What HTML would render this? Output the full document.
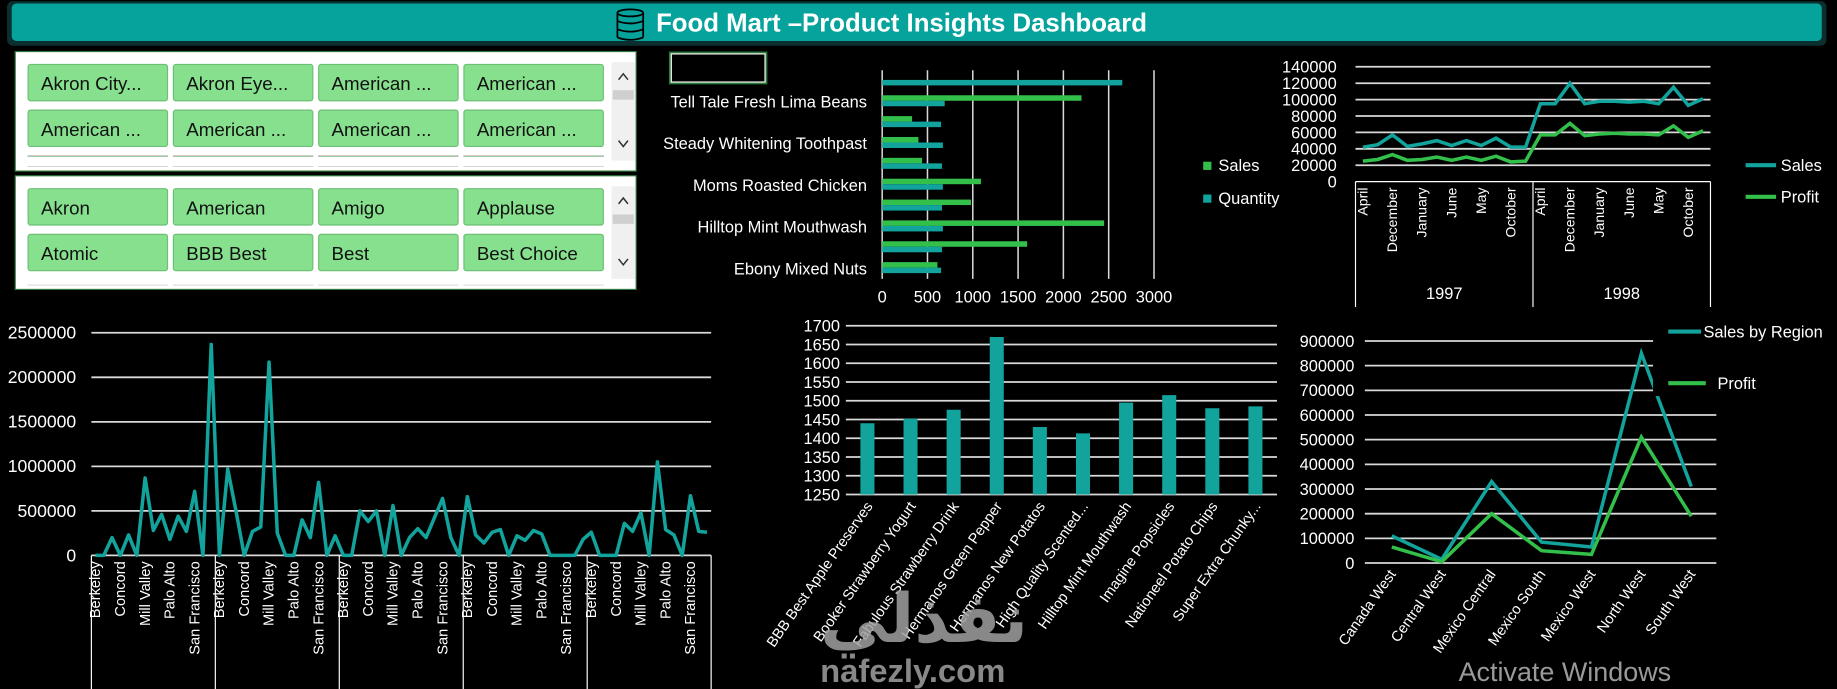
<!DOCTYPE html>
<html><head><meta charset="utf-8">
<style>
html,body{margin:0;padding:0;background:#000;overflow:hidden}
svg{display:block}
.n{font-family:"Liberation Sans Narrow","Liberation Sans",sans-serif}
.s{font-family:"Liberation Sans",sans-serif}
</style></head>
<body>
<svg id="root" width="1837" height="689" viewBox="0 0 1568 588" preserveAspectRatio="none" xmlns="http://www.w3.org/2000/svg">
<rect x="0" y="0" width="1568" height="588" fill="#000"/>
<g>
<rect x="6" y="1" width="1553" height="38" rx="5" fill="#0a2f2e"/>
<rect x="10" y="3" width="1545" height="32" rx="4" fill="#06a39c"/>
<g fill="none" stroke="#000" stroke-width="1.5">
<ellipse cx="538" cy="11" rx="11" ry="3"/>
<path d="M527 11 V32 M549 11 V32 M527 18 Q538 22 549 18 M527 25 Q538 29 549 25 M527 32 Q538 36 549 32"/>
</g>
<text x="560" y="27" class="n" font-size="22" font-weight="bold" fill="#fff">Food Mart –Product Insights Dashboard</text>
</g>
<g id="slicers"></g>
<rect x="572" y="45" width="82" height="26" fill="none" stroke="#2e7a3e" stroke-width="2"/>
<rect x="573" y="46" width="80" height="24" fill="none" stroke="#fff" stroke-width="1"/>
<g id="barh"></g>
<g id="trend"></g>
<g id="city"></g>
<g id="prod"></g>
<g id="region"></g>
<g fill="#a0a0a0" opacity="0.85">
<text x="700" y="548" font-family="'Noto Sans CJK SC','DejaVu Sans',sans-serif" font-size="58" font-weight="bold">نفذلي</text>
<text x="700" y="582" class="n" font-size="28" font-weight="bold">nafezly.com</text>
</g>
<text x="1245" y="581" class="n" font-size="23" fill="#9a9a9a">Activate Windows</text>
</svg>
<script>
const NS="http://www.w3.org/2000/svg";
function mk(parent,tag,attrs,txt){const e=document.createElementNS(NS,tag);for(const k in attrs)e.setAttribute(k,attrs[k]);if(txt!==undefined)e.textContent=txt;parent.appendChild(e);return e;}
const TEAL="#12a39c",GREEN="#33c04a",GRID="#d9d9d9";

// ---------- slicers ----------
const slicer1Items=["Akron City...","Akron Eye...","American ...","American ...","American ...","American ...","American ...","American ..."];
const slicer2Items=["Akron","American","Amigo","Applause","Atomic","BBB Best","Best","Best Choice"];
function slicer(y0,h,items,name){
  const g=document.getElementById('slicers');
  const box=mk(g,'rect',{x:13,y:y0,width:530,height:h,fill:"#fff",stroke:"#2e7a3e","stroke-width":1});
  
  
  const cols=[24,148,272,396];
  for(let r=0;r<3;r++)for(let c=0;c<4;c++){
    const by=y0+11+r*39;
    if(r===2){const p=mk(g,'rect',{x:cols[c],y:by,width:119,height:h-11-r*39-4,fill:"#86e08e",stroke:"#bbb"});continue;}
    const b=mk(g,'rect',{x:cols[c],y:by,width:119,height:31,rx:2,fill:"#86e08e",stroke:"#6cbf74"});
    
    
    const t=mk(g,'text',{x:cols[c]+11,y:by+22,class:"n","font-size":16,fill:"#111"},items[r*4+c]);
    
    
  }
  const sb=mk(g,'rect',{x:522,y:y0+9,width:20,height:h-18,fill:"#f0f0f0"});
  
  
  mk(g,'rect',{x:523,y:y0+33,width:18,height:8,fill:"#cfcfcf"});
  mk(g,'path',{d:`M528 ${y0+24} l4 -5 l4 5`,stroke:"#333",fill:"none","stroke-width":1.3});
  mk(g,'path',{d:`M528 ${y0+h-26} l4 5 l4 -5`,stroke:"#333",fill:"none","stroke-width":1.3});
}
slicer(44,102,slicer1Items,'store-slicer');
slicer(150,97,slicer2Items,'brand-slicer');
// clip third row overflow: cover
(function(){const g=document.getElementById('slicers');
mk(g,'rect',{x:20,y:134,width:500,height:8,fill:"#fff"});
mk(g,'rect',{x:20,y:238,width:500,height:5,fill:"#fff"});})();

// ---------- horizontal bar chart ----------
const barCats=["","Tell Tale Fresh Lima Beans","","Steady Whitening Toothpast","","Moms Roasted Chicken","","Hilltop Mint Mouthwash","","Ebony Mixed Nuts"];
const barSales=[0,2200,330,400,440,1090,980,2450,1600,610];
const barQty=[2650,690,650,670,660,670,660,670,660,650];
const barTicks=[0,500,1000,1500,2000,2500,3000];
(function(){
  const g=document.getElementById('barh');
  const x0=753,x1=985,y0=60,y1=238,max=3000;
  const xb=v=>x0+v/max*(x1-x0);
  const bh=(y1-y0)/barCats.length;
  barTicks.forEach(t=>{
    const l=mk(g,'line',{x1:xb(t),x2:xb(t),y1:y0,y2:y1,stroke:GRID,"stroke-width":1.3});
    
    
    const tx=mk(g,'text',{x:xb(t),y:258,"text-anchor":"middle",class:"n","font-size":14,fill:"#fff"},t);
    
    
  });
  barCats.forEach((c,i)=>{
    const top=y0+i*bh;
    const r1=mk(g,'rect',{x:x0,y:top+3.5,width:xb(barSales[i])-x0,height:4.7,fill:GREEN});
    
    
    const r2=mk(g,'rect',{x:x0,y:top+8.2,width:xb(barQty[i])-x0,height:4.7,fill:TEAL});
    
    
    if(c){const t=mk(g,'text',{x:740,y:top+bh/2+5,"text-anchor":"end",class:"n","font-size":14,fill:"#fff"},c);
      
      }
  });
  const lg1=mk(g,'rect',{x:1027,y:138,width:7,height:7,fill:GREEN});
  
  
  const lt1=mk(g,'text',{x:1040,y:146,class:"n","font-size":14,fill:"#fff"},"Sales");
  
  
  const lg2=mk(g,'rect',{x:1027,y:166,width:7,height:7,fill:TEAL});
  
  
  const lt2=mk(g,'text',{x:1040,y:174,class:"n","font-size":14,fill:"#fff"},"Quantity");
  
  
})();

// ---------- monthly trend ----------
const months=["April","August","December","February","January","July","June","March","May","November","October","September"];
const years=["1997","1998"];
const trendSales=[42000,45000,57000,43000,46000,50000,44000,50000,44000,53000,42000,42000,95000,95000,120000,95000,98000,98000,97000,98000,95000,115000,93000,101000];
const trendProfit=[25000,27000,33000,26000,27000,30000,26000,30000,26000,31000,24000,25000,57000,57000,71000,56000,58000,59000,58000,58000,57000,68000,54000,62000];
const trendTicks=[0,20000,40000,60000,80000,100000,120000,140000];
(function(){
  const g=document.getElementById('trend');
  const x0=1157,x1=1460,y0=57,y1=155,max=140000;
  const n=trendSales.length;
  const xs=i=>x0+(i+0.5)*(x1-x0)/n;
  const ys=v=>y1-v/max*(y1-y0);
  trendTicks.forEach(t=>{
    if(t>0){const l=mk(g,'line',{x1:x0,x2:x1,y1:ys(t),y2:ys(t),stroke:GRID,"stroke-width":1.5});
    
    }
    const tx=mk(g,'text',{x:1141,y:ys(t)+5,"text-anchor":"end",class:"n","font-size":14,fill:"#fff"},t);
    
    
  });
  [x0,(x0+x1)/2,x1].forEach(x=>{mk(g,'line',{x1:x,x2:x,y1:y1,y2:262,stroke:"#fff","stroke-width":1});});
  mk(g,'line',{x1:x0,x2:x1,y1:y1,y2:y1,stroke:"#fff","stroke-width":1});
  for(let i=0;i<n;i+=2){
    const x=xs(i)+4;
    const t=mk(g,'text',{x:x,y:160,transform:`rotate(-90 ${x} 160)`,"text-anchor":"end",class:"s","font-size":12,fill:"#fff"},months[i%12]);
    
    
  }
  years.forEach((y,k)=>{const t=mk(g,'text',{x:x0+(k+0.5)*(x1-x0)/2,y:255,"text-anchor":"middle",class:"n","font-size":14,fill:"#fff"},y);
    
    });
  const p1=mk(g,'polyline',{points:trendSales.map((v,i)=>xs(i)+","+ys(v)).join(" "),fill:"none",stroke:TEAL,"stroke-width":3});
  
  
  const p2=mk(g,'polyline',{points:trendProfit.map((v,i)=>xs(i)+","+ys(v)).join(" "),fill:"none",stroke:GREEN,"stroke-width":3});
  
  
  mk(g,'line',{x1:1490,x2:1516,y1:141,y2:141,stroke:TEAL,"stroke-width":3.5});
  const a=mk(g,'text',{x:1520,y:146,class:"n","font-size":14,fill:"#fff"},"Sales");
  
  
  mk(g,'line',{x1:1490,x2:1516,y1:168,y2:168,stroke:GREEN,"stroke-width":3.5});
  const b=mk(g,'text',{x:1520,y:173,class:"n","font-size":14,fill:"#fff"},"Profit");
  
  
})();

// ---------- city sales line ----------
const cities=["Berkeley","Beverly Hills","Burlingame","Concord","Daly City","Los Angeles","Mill Valley","Novato","Oakland","Palo Alto","Richmond","San Carlos","San Francisco","San Jose","Santa Cruz"];
const cityGroups=5;
const citySales=[0,0,200000,0,230000,0,870000,280000,460000,180000,440000,270000,720000,0,2370000,
0,970000,500000,0,270000,320000,2170000,250000,0,0,400000,200000,820000,0,220000,
0,0,500000,380000,500000,0,560000,0,200000,300000,200000,420000,640000,200000,0,
660000,230000,140000,260000,290000,0,220000,170000,280000,240000,0,0,0,0,180000,
260000,0,0,0,360000,270000,480000,0,1050000,290000,230000,0,670000,270000,260000];
const cityTicks=[0,500000,1000000,1500000,2000000,2500000];
(function(){
  const g=document.getElementById('city');
  const x0=78,x1=607,y0=284,y1=474,max=2500000;
  const n=citySales.length;
  const xl=i=>x0+(i+0.5)*(x1-x0)/n;
  const yl=v=>y1-v/max*(y1-y0);
  cityTicks.forEach(t=>{
    const l=mk(g,'line',{x1:x0,x2:x1,y1:yl(t),y2:yl(t),stroke:GRID,"stroke-width":1.5});
    
    
    const tx=mk(g,'text',{x:65,y:yl(t)+5,"text-anchor":"end",class:"n","font-size":15,fill:"#fff"},t);
    
    
  });
  for(let k=0;k<=cityGroups;k++){const x=x0+k*(x1-x0)/cityGroups;mk(g,'line',{x1:x,x2:x,y1:y1,y2:588,stroke:"#fff","stroke-width":1});}
  for(let i=0;i<n;i+=3){
    const x=xl(i)+4;
    const t=mk(g,'text',{x:x,y:479,transform:`rotate(-90 ${x} 479)`,"text-anchor":"end",class:"s","font-size":12.5,fill:"#fff"},cities[i%cities.length]);
    
    
  }
  const p=mk(g,'polyline',{points:citySales.map((v,i)=>xl(i)+","+yl(v)).join(" "),fill:"none",stroke:TEAL,"stroke-width":3,"stroke-linejoin":"round"});
  
  
})();

// ---------- product bars ----------
const products=["BBB Best Apple Preserves","Booker Strawberry Yogurt","Fabulous Strawberry Drink","Hermanos Green Pepper","Hermanos New Potatos","High Quality Scented...","Hilltop Mint Mouthwash","Imagine Popsicles","Nationeel Potato Chips","Super Extra Chunky..."];
const productValues=[1440,1452,1476,1670,1430,1413,1495,1515,1480,1485];
const productTicks=[1250,1300,1350,1400,1450,1500,1550,1600,1650,1700];
(function(){
  const g=document.getElementById('prod');
  const x0=722,x1=1090,y0=278,y1=422,mn=1250,mx=1700;
  const yb=v=>y1-(v-mn)/(mx-mn)*(y1-y0);
  const bw=(x1-x0)/products.length;
  productTicks.forEach(t=>{
    const l=mk(g,'line',{x1:x0,x2:x1,y1:yb(t),y2:yb(t),stroke:GRID,"stroke-width":1.5});
    
    
    const tx=mk(g,'text',{x:717,y:yb(t)+5,"text-anchor":"end",class:"n","font-size":14,fill:"#fff"},t);
    
    
  });
  products.forEach((p,i)=>{
    const cx=x0+(i+0.5)*bw;
    const r=mk(g,'rect',{x:cx-6,y:yb(productValues[i]),width:12,height:y1-yb(productValues[i]),fill:TEAL});
    
    
    const t=mk(g,'text',{x:cx+5,y:432,transform:`rotate(-55 ${cx+5} 432)`,"text-anchor":"end",class:"s","font-size":12.5,fill:"#fff"},p);
    
    
  });
})();

// ---------- region line ----------
const regions=["Canada West","Central West","Mexico Central","Mexico South","Mexico West","North West","South West"];
const regionSales=[110000,15000,330000,85000,65000,850000,310000];
const regionProfit=[65000,5000,200000,50000,35000,510000,190000];
const regionTicks=[0,100000,200000,300000,400000,500000,600000,700000,800000,900000];
(function(){
  const g=document.getElementById('region');
  const x0=1165,x1=1465,y0=291,y1=480.5,max=900000;
  const xr=i=>1188+i*42.6;
  const yr=v=>y1-v/max*(y1-y0);
  regionTicks.forEach(t=>{
    const l=mk(g,'line',{x1:x0,x2:x1,y1:yr(t),y2:yr(t),stroke:GRID,"stroke-width":1.5});
    
    
    const tx=mk(g,'text',{x:1156,y:yr(t)+5,"text-anchor":"end",class:"n","font-size":14,fill:"#fff"},t);
    
    
  });
  regions.forEach((r,i)=>{
    const x=xr(i)+4;
    const t=mk(g,'text',{x:x,y:490,transform:`rotate(-55 ${x} 490)`,"text-anchor":"end",class:"s","font-size":12.5,fill:"#fff"},r);
    
    
  });
  const p1=mk(g,'polyline',{points:regionSales.map((v,i)=>xr(i)+","+yr(v)).join(" "),fill:"none",stroke:TEAL,"stroke-width":3});
  
  
  const p2=mk(g,'polyline',{points:regionProfit.map((v,i)=>xr(i)+","+yr(v)).join(" "),fill:"none",stroke:GREEN,"stroke-width":3});
  
  
  mk(g,'rect',{x:1411,y:268,width:157,height:70,fill:"#000"});
  mk(g,'line',{x1:1424,x2:1452,y1:283,y2:283,stroke:TEAL,"stroke-width":3.5});
  const a=mk(g,'text',{x:1454,y:288,class:"n","font-size":14,fill:"#fff"},"Sales by Region");
  
  
  mk(g,'line',{x1:1424,x2:1456,y1:327,y2:327,stroke:GREEN,"stroke-width":3.5});
  const b=mk(g,'text',{x:1466,y:332,class:"n","font-size":14,fill:"#fff"},"Profit");
  
  
})();
</script>
</body></html>
